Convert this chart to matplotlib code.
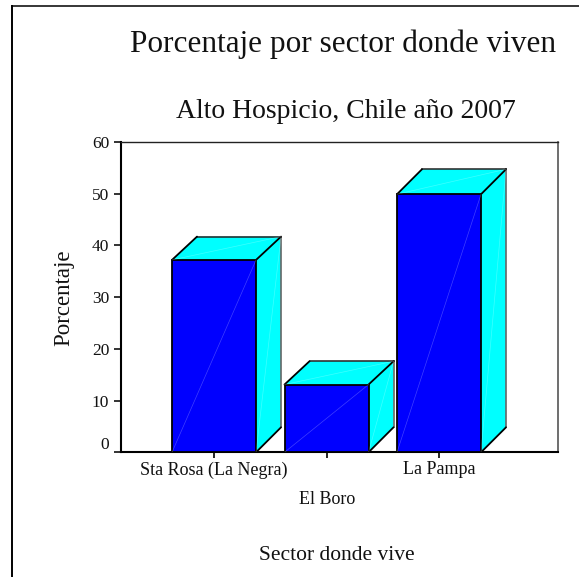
import matplotlib
matplotlib.use('Agg')
from matplotlib import pyplot as plt
from matplotlib.lines import Line2D
from matplotlib.patches import Polygon
from matplotlib.transforms import ScaledTranslation

categories = ['Sta Rosa (La Negra)', 'El Boro', 'La Pampa']
values = [37.2, 13.1, 49.9]

W, H = 579, 577
plt.rcParams['font.family'] = ['Liberation Serif']

fig = plt.figure(figsize=(W / 100, H / 100), dpi=100)
ax = fig.add_axes([121 / W, 1 - 452.3 / H, (557.7 - 121) / W, (452.3 - 142) / H])

# frame of the pasted chart, only left and top show
frame_x = 11.5 / W
frame_y = 1 - 5.5 / H
fig.add_artist(Line2D([frame_x, frame_x], [0, frame_y], color='black', lw=1.4))
fig.add_artist(Line2D([frame_x, 1], [frame_y, frame_y], color='black', lw=1.1))

bar_w = 0.747
dx = 25 / 112.5
dy = 25 / 5.17
top_dy = [23.3 / 5.17, 23.3 / 5.17, 25 / 5.17]
seam = dict(color='white', lw=0.5, alpha=0.25, zorder=6)
edge = dict(color='black', lw=1.3, zorder=4, solid_capstyle='round')

for i, v in enumerate(values):
    x0 = i - bar_w / 2
    x1 = i + bar_w / 2
    td = top_dy[i]
    ax.add_patch(Polygon([(x1, 0), (x1 + dx, dy), (x1 + dx, v + td), (x1, v)], fc='#00ffff', ec='none', zorder=3))
    ax.add_patch(Polygon([(x0, v), (x0 + dx, v + td), (x1 + dx, v + td), (x1, v)], fc='#00ffff', ec='none', zorder=3))
    ax.plot([x1 + dx, x1 + dx], [dy, v + td], color='#666666', lw=1.2, zorder=3.5)
    ax.plot([x0 + dx, x1 + dx], [v + td, v + td], color='#222222', lw=1.1, zorder=3.5)
    ax.plot([x1, x1 + dx], [0, dy], **edge)
    ax.plot([x0, x0 + dx], [v, v + td], **edge)
    ax.plot([x1, x1 + dx], [v, v + td], **edge)
    ax.add_patch(Polygon([(x0, 0), (x1, 0), (x1, v), (x0, v)], fc='#0000ff', ec='black', lw=1.3, zorder=5))
    ax.plot([x0, x1], [0, v], **seam)
    ax.plot([x1, x1 + dx], [0, v + td], **seam)
    ax.plot([x0, x1 + dx], [v, v + td], **seam)

ax.set_xlim(-0.827, 3.055)
ax.set_ylim(0, 60)
ax.set_yticks([0, 10, 20, 30, 40, 50, 60])
ax.set_xticks([0, 1, 2])
ax.set_xticklabels(['', '', ''])
ax.tick_params(axis='y', labelsize=12.5, length=5, width=1.2, pad=3.5, colors='#111111')
ax.tick_params(axis='x', length=4.5, width=1.2)
ax.spines['left'].set_linewidth(1.5)
ax.spines['bottom'].set_linewidth(1.5)
ax.spines['top'].set_linewidth(1.0)
ax.spines['right'].set_linewidth(1.2)
ax.spines['right'].set_color('#555555')
ax.spines['top'].set_color('#222222')

# the 0 label sits above its tick in the original
zero = ax.get_yticklabels()[0]
zero.set_transform(zero.get_transform() + ScaledTranslation(0, 9 / 100, fig.dpi_scale_trans))

def label(x, y, s, size, **kw):
    fig.text(x / W, 1 - y / H, s, fontsize=size, ha='center', va='center', color='#111111', **kw)

label(214, 470, categories[0], 13)
label(327, 500, categories[1], 13)
label(439, 470, categories[2], 13)
label(343, 44, 'Porcentaje por sector donde viven', 22.5)
label(346, 112, 'Alto Hospicio, Chile año 2007', 20)
label(337, 556, 'Sector donde vive', 15.5)
label(64, 298, 'Porcentaje', 16.5, rotation=90)

fig.savefig('out.png', dpi=100)
